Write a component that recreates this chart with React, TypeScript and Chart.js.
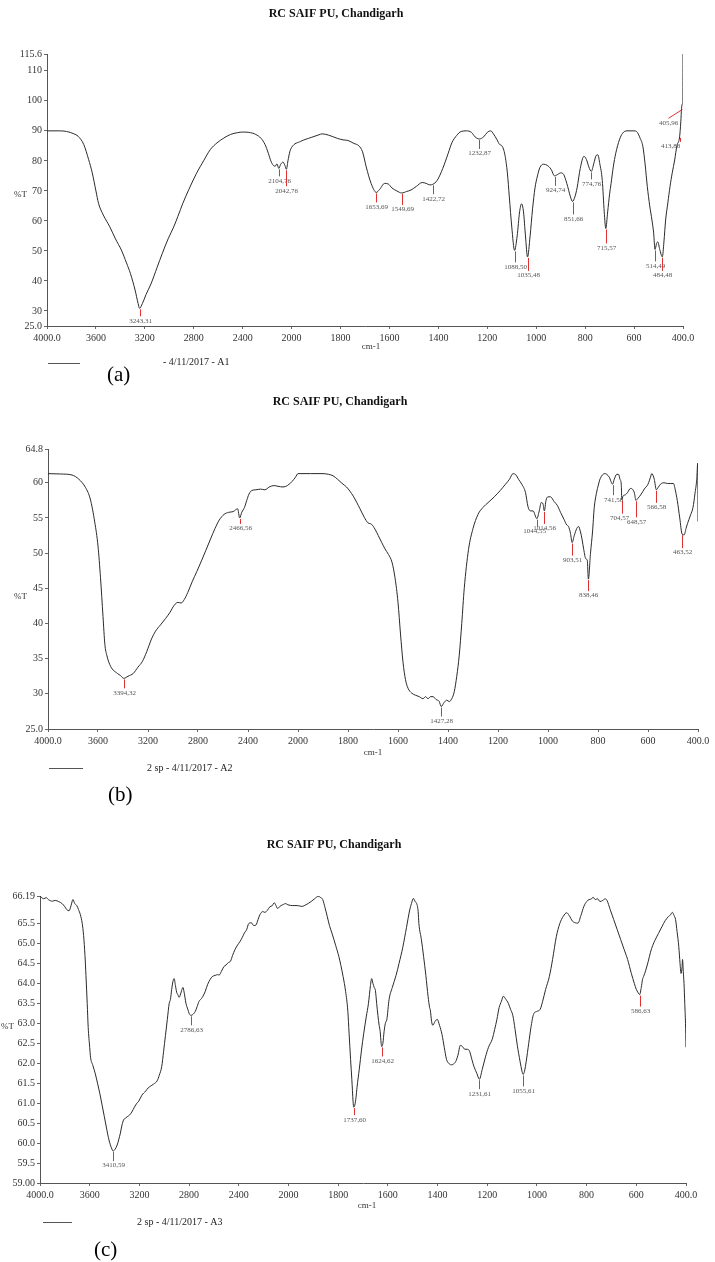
import React, { useEffect, useRef } from 'react';
import { Chart, registerables, LinearScale } from 'chart.js';

Chart.register(...registerables);

// FTIR axis: 4000-2000 cm-1 drawn at half the scale of 2000-400 cm-1
const BREAK = 2000;
const warp = (v: number) => (v > BREAK ? BREAK + (v - BREAK) / 2 : v);
const unwarp = (u: number) => (u > BREAK ? BREAK + (u - BREAK) * 2 : u);

class FtirScale extends LinearScale {
  static id = 'ftir';
  static defaults = LinearScale.defaults;
  getPixelForValue(value: number) {
    const a = warp(this.min);
    const b = warp(this.max);
    return this.getPixelForDecimal((warp(value) - a) / (b - a));
  }
  getValueForPixel(pixel: number) {
    const a = warp(this.min);
    const b = warp(this.max);
    return unwarp(a + this.getDecimalForPixel(pixel) * (b - a));
  }
}
Chart.register(FtirScale);

// ---------------- DATA ----------------
const X_TICKS = [4000, 3600, 3200, 2800, 2400, 2000, 1800, 1600, 1400, 1200, 1000, 800, 600, 400];
const X_TICK_LABELS = ['4000.0', '3600', '3200', '2800', '2400', '2000', '1800', '1600', '1400', '1200', '1000', '800', '600', '400.0'];

const TITLE = 'RC SAIF PU, Chandigarh';

// Panel (a)
const yTicksA = [25, 30, 40, 50, 60, 70, 80, 90, 100, 110, 115.6];
const yTickLabelsA = ['25.0', '30', '40', '50', '60', '70', '80', '90', '100', '110', '115.6'];
const spectrumA: [number, number][] = [
  [4000, 90], [3900, 90], [3840, 89.8], [3780, 89], [3746, 88.2], [3700, 85.5], [3660, 80.5], [3630, 76],
  [3600, 70], [3579, 65.9], [3540, 62], [3486, 58], [3440, 54], [3392, 50.3], [3350, 46], [3318, 42.5],
  [3280, 37], [3255, 32.5], [3243.31, 30.9], [3220, 32.5], [3190, 35.5], [3150, 39], [3100, 44.5], [3057, 49.2],
  [3010, 54], [2964, 58], [2930, 61.5], [2889, 65.9], [2840, 70.5], [2777, 75.9], [2720, 80], [2666, 83.7],
  [2610, 86], [2554, 87.6], [2500, 88.8], [2442, 89.4], [2400, 89.6], [2350, 89.5], [2293, 88.8], [2250, 87.5],
  [2218, 85.5], [2190, 82.5], [2170, 80], [2150, 78.5], [2135, 78.2], [2120, 79], [2104.76, 77.5], [2090, 78.8],
  [2070, 79.6], [2055, 78.5], [2042.76, 77.2], [2030, 80], [2015, 83], [2000, 84.5], [1963, 86.5], [1920, 87.8],
  [1888, 88.7], [1875, 89], [1850, 88.6], [1813, 87.5], [1790, 87], [1770, 86.8], [1745, 85.8], [1725, 85],
  [1710, 83], [1695, 78], [1675, 72.5], [1653.69, 69.5], [1640, 70.5], [1620, 72.5], [1605, 72.3], [1590, 71],
  [1570, 70], [1549.69, 69.3], [1530, 69.8], [1512, 70.3], [1490, 71.5], [1466, 72.8], [1450, 72.5], [1435, 72],
  [1422.72, 72.2], [1405, 73.5], [1382, 77.5], [1360, 82.5], [1345, 86], [1325, 88.5], [1307, 89.8], [1285, 90],
  [1265, 89.5], [1250, 88], [1232.87, 87.3], [1215, 88], [1200, 89.5], [1186, 90], [1175, 89], [1160, 87],
  [1150, 85.5], [1140, 85], [1128, 82], [1118, 76], [1110, 68], [1100, 58], [1088.5, 50.2], [1078, 55],
  [1068, 63], [1060, 65.7], [1052, 63], [1044, 55], [1035.48, 48], [1025, 55], [1015, 64], [1005, 71],
  [995, 75], [985, 77.8], [970, 78.9], [955, 78.5], [940, 77.3], [924.74, 75], [912, 75.5], [900, 76],
  [888, 75.5], [875, 72.5], [860, 68], [851.66, 66.5], [842, 68], [833, 71], [820, 77.5], [805, 81.5],
  [795, 80.5], [785, 78], [774.76, 76.5], [765, 79], [755, 81.8], [748, 82], [740, 79], [730, 73.5],
  [722, 63], [715.57, 57.5], [708, 63], [700, 69], [694, 72.5], [685, 78], [675, 82.5], [660, 87],
  [647, 89.2], [629, 90], [600, 90], [590, 89.8], [575, 87.5], [564, 84.8], [555, 79], [546, 71.5],
  [536, 65], [527, 60.3], [520, 56], [514.49, 50.5], [508, 52.5], [503, 53], [495, 50.5], [484.48, 48],
  [478, 53], [471, 60.3], [462, 66], [453, 71.5], [444, 76], [434, 80.3], [425, 85], [413.88, 88],
  [409, 93], [405.96, 97.5], [402, 99], [400.5, 99.5], [400, 115.6],
];
const peaksA: [number, number, string][] = [
  [3243.31, 30.9, '3243,31'], [2104.76, 77.5, '2104,76'], [2042.76, 77.2, '2042,76'], [1653.69, 69.5, '1653,69'],
  [1549.69, 69.3, '1549,69'], [1422.72, 72.2, '1422,72'], [1232.87, 87.3, '1232,87'], [1088.5, 50.2, '1088,50'],
  [1035.48, 48, '1035,48'], [924.74, 75, '924,74'], [851.66, 66.5, '851,66'], [774.76, 76.5, '774,76'],
  [715.57, 57.5, '715,57'], [514.49, 50.5, '514,49'], [484.48, 48, '484,48'], [413.88, 88, '413,88'],
  [405.96, 97.5, '405,96'],
];

// Panel (b)
const yTicksB = [25, 30, 35, 40, 45, 50, 55, 60, 64.8];
const yTickLabelsB = ['25.0', '30', '35', '40', '45', '50', '55', '60', '64.8'];
const spectrumB: [number, number][] = [
  [4000, 61.3], [3900, 61.25], [3808, 61.1], [3753, 60.5], [3699, 59.3], [3662, 57.7], [3626, 54.4], [3600, 51],
  [3580, 46.5], [3560, 41], [3545, 37], [3530, 35.5], [3499, 33.9], [3445, 32.9], [3420, 32.6], [3394.32, 32.2],
  [3360, 32.5], [3318, 32.9], [3280, 33.8], [3245, 34.6], [3210, 36], [3172, 37.8], [3140, 38.9], [3100, 39.8],
  [3060, 40.7], [3027, 41.5], [2990, 42.6], [2960, 43], [2936, 42.9], [2910, 43.4], [2882, 44.4], [2845, 46],
  [2809, 47.4], [2770, 49], [2737, 50.4], [2700, 52], [2664, 53.5], [2630, 54.7], [2592, 55.5], [2555, 55.8],
  [2519, 55.9], [2483, 56.3], [2466.56, 55], [2450, 55.8], [2428, 56.5], [2410, 57.5], [2392, 58.4], [2370, 58.9],
  [2337, 59], [2300, 59.1], [2265, 59], [2230, 59.4], [2193, 59.6], [2160, 59.5], [2120, 59.4], [2085, 59.6],
  [2047, 60.2], [2020, 60.8], [2000, 61.3], [1950, 61.3], [1900, 61.3], [1878, 61.2], [1860, 61], [1842, 60.5],
  [1820, 59.8], [1806, 59.4], [1779, 58.1], [1752, 56.3], [1735, 55.1], [1720, 54.3], [1706, 54.1], [1692, 53.4],
  [1679, 52.5], [1665, 51.5], [1652, 50.6], [1638, 49.8], [1624, 48.7], [1612, 46.5], [1600, 43], [1590, 38.5],
  [1580, 34.5], [1570, 32], [1560, 30.8], [1545, 30.1], [1530, 29.8], [1515, 29.6], [1500, 29.3], [1490, 29.6],
  [1480, 29.3], [1470, 29.6], [1460, 29.6], [1448, 29.2], [1435, 28.9], [1427.28, 28.2], [1415, 28.8], [1405, 29.1],
  [1395, 28.9], [1385, 29.3], [1375, 30.3], [1365, 32.5], [1355, 35.5], [1345, 40], [1335, 45], [1318, 50.5],
  [1300, 53.5], [1280, 55.5], [1260, 56.5], [1236, 57.3], [1215, 58], [1191, 58.9], [1170, 59.8], [1154, 60.5],
  [1140, 61.3], [1128, 61.1], [1118, 60.5], [1105, 59.8], [1090, 58.6], [1080, 56.6], [1070, 56], [1060, 56],
  [1044.55, 54.9], [1035, 56], [1027, 57.2], [1020, 57], [1014.56, 56], [1008, 57.5], [1000, 58], [990, 58],
  [975, 57.3], [963, 56.8], [950, 55.8], [936, 54.8], [925, 54], [918, 53.8], [910, 52.8], [903.51, 51.5],
  [895, 52.5], [885, 53.5], [878, 53.8], [870, 53], [864, 52], [857, 50.5], [849, 49.2], [843, 49],
  [838.46, 46.3], [830, 50], [822, 53], [815, 56.5], [809, 58], [800, 59.5], [791, 60.6], [773, 61.3],
  [765, 61.2], [755, 60.8], [741.58, 59.8], [735, 60.5], [725, 61.2], [718, 61.2], [712, 60.5], [707, 59.8],
  [704.57, 57.6], [700, 58.1], [690, 58.3], [682, 58.6], [670, 59.2], [660, 59], [654, 58.5], [648.57, 57.5],
  [640, 57.8], [627, 58.4], [615, 59.1], [600, 59.8], [590, 60.8], [585, 61.3], [575, 60.5], [566.58, 59],
  [560, 59.3], [550, 59.8], [536, 60], [522, 59.9], [509, 59.9], [498, 59.9], [491, 59], [483, 57.5],
  [473, 55], [463.52, 52.7], [455, 52.6], [448, 53.5], [442, 54.2], [430, 55.4], [420, 56.5], [412, 58.5],
  [405, 60.5], [401, 62.8], [400, 54.5],
];
const peaksB: [number, number, string][] = [
  [3394.32, 32.2, '3394,32'], [2466.56, 55, '2466,56'], [1427.28, 28.2, '1427,28'], [1044.55, 54.9, '1044,55'],
  [1014.56, 56, '1014,56'], [903.51, 51.5, '903,51'], [838.46, 46.3, '838,46'], [741.58, 59.8, '741,58'],
  [704.57, 57.6, '704,57'], [648.57, 57.5, '648,57'], [566.58, 59, '566,58'], [463.52, 52.7, '463,52'],
];

// Panel (c)
const yTicksC = [59, 59.5, 60, 60.5, 61, 61.5, 62, 62.5, 63, 63.5, 64, 64.5, 65, 65.5, 66.19];
const yTickLabelsC = ['59.00', '59.5', '60.0', '60.5', '61.0', '61.5', '62.0', '62.5', '63.0', '63.5', '64.0', '64.5', '65.0', '65.5', '66.19'];
const spectrumC: [number, number][] = [
  [4000, 66.19], [3970, 66.12], [3950, 66.15], [3933, 66.1], [3900, 66.06], [3877, 66.08], [3850, 66.05], [3822, 66.0],
  [3800, 65.92], [3785, 65.85], [3766, 65.82], [3750, 65.95], [3735, 66.1], [3720, 66.0], [3704, 65.95], [3690, 65.85],
  [3675, 65.72], [3660, 65.5], [3649, 65.2], [3638, 64.7], [3630, 64.2], [3620, 63.5], [3612, 62.9], [3600, 62.4],
  [3593, 62.15], [3575, 61.95], [3556, 61.75], [3537, 61.5], [3519, 61.25], [3500, 60.95], [3482, 60.66], [3463, 60.35],
  [3445, 60.08], [3425, 59.88], [3410.59, 59.8], [3395, 59.85], [3379, 59.95], [3365, 60.1], [3353, 60.25], [3340, 60.45],
  [3327, 60.58], [3310, 60.63], [3298, 60.66], [3280, 60.7], [3261, 60.78], [3240, 60.9], [3220, 61.0], [3205, 61.05],
  [3180, 61.2], [3150, 61.3], [3130, 61.38], [3113, 61.42], [3085, 61.48], [3057, 61.56], [3040, 61.7], [3020, 61.92],
  [3005, 62.3], [2990, 62.7], [2975, 63.1], [2960, 63.5], [2950, 63.6], [2940, 63.85], [2930, 64.05], [2920, 64.12],
  [2910, 63.95], [2900, 63.78], [2891, 63.72], [2880, 63.65], [2872, 63.7], [2860, 63.82], [2850, 63.9], [2840, 63.78],
  [2825, 63.5], [2810, 63.35], [2800, 63.25], [2786.63, 63.2], [2770, 63.22], [2750, 63.3], [2735, 63.42], [2720, 63.55],
  [2700, 63.62], [2688, 63.68], [2670, 63.8], [2650, 63.98], [2630, 64.1], [2614, 64.17], [2590, 64.2], [2570, 64.22],
  [2558, 64.21], [2540, 64.3], [2520, 64.42], [2503, 64.46], [2485, 64.52], [2466, 64.56], [2450, 64.7], [2430, 64.85],
  [2410, 64.96], [2390, 65.05], [2372, 65.15], [2355, 65.26], [2335, 65.36], [2320, 65.5], [2299, 65.52], [2280, 65.45],
  [2262, 65.46], [2245, 65.6], [2230, 65.72], [2207, 65.8], [2190, 65.78], [2170, 65.83], [2150, 65.92], [2130, 65.95],
  [2115, 66.02], [2100, 65.95], [2090, 65.88], [2078, 65.9], [2060, 65.95], [2040, 65.98], [2022, 66.0], [2005, 65.97],
  [1983, 65.95], [1965, 65.95], [1946, 65.93], [1930, 65.97], [1909, 66.05], [1895, 66.12], [1880, 66.18], [1870, 66.15],
  [1862, 66.1], [1853, 65.9], [1844, 65.68], [1835, 65.45], [1825, 65.26], [1810, 64.95], [1797, 64.67], [1789, 64.45],
  [1780, 64.17], [1770, 63.8], [1761, 63.3], [1756, 62.75], [1750, 62.1], [1745, 61.6], [1740, 61.05], [1737.6, 60.9],
  [1733, 60.95], [1728, 61.15], [1724, 61.4], [1715, 61.85], [1706, 62.33], [1697, 62.75], [1687, 63.16], [1678, 63.5],
  [1670, 63.95], [1665, 64.12], [1660, 64.0], [1655, 63.9], [1650, 63.82], [1645, 63.5], [1640, 63.2], [1635, 62.95],
  [1631, 62.8], [1627, 62.5], [1624.62, 62.42], [1620, 62.5], [1615, 62.8], [1610, 63.0], [1604, 63.1], [1595, 63.6],
  [1582, 63.9], [1567, 64.2], [1555, 64.5], [1540, 64.9], [1525, 65.4], [1512, 65.84], [1505, 66.0], [1497, 66.13],
  [1490, 66.05], [1484, 66.0], [1478, 65.8], [1475, 65.5], [1465, 65.1], [1456, 64.67], [1447, 64.2], [1438, 63.67],
  [1432, 63.4], [1429, 63.33], [1424, 63.05], [1419, 62.95], [1410, 63.05], [1401, 63.1], [1392, 62.95], [1382, 62.72],
  [1373, 62.4], [1364, 62.1], [1355, 62.0], [1345, 61.96], [1336, 61.98], [1327, 62.04], [1318, 62.2], [1308, 62.45],
  [1300, 62.42], [1290, 62.35], [1280, 62.35], [1271, 62.3], [1262, 62.1], [1253, 61.91], [1242, 61.75], [1231.61, 61.6],
  [1220, 61.85], [1207, 62.16], [1195, 62.4], [1180, 62.6], [1170, 62.85], [1161, 63.1], [1152, 63.4], [1143, 63.55],
  [1135, 63.68], [1127, 63.62], [1115, 63.5], [1106, 63.35], [1097, 63.2], [1088, 62.85], [1079, 62.45], [1068, 62.05],
  [1060, 61.8], [1055.61, 61.72], [1050, 61.8], [1043, 62.05], [1033, 62.5], [1024, 62.9], [1014, 63.22], [1000, 63.3],
  [987, 63.35], [977, 63.55], [965, 63.85], [950, 64.17], [937, 64.6], [922, 65.17], [908, 65.5], [894, 65.68],
  [880, 65.77], [870, 65.7], [857, 65.56], [846, 65.52], [835, 65.51], [823, 65.7], [811, 65.93], [800, 66.05],
  [790, 66.1], [780, 66.12], [774, 66.16], [765, 66.1], [756, 66.12], [746, 66.05], [735, 66.08], [725, 66.12],
  [718, 66.08], [705, 65.85], [691, 65.6], [677, 65.35], [663, 65.1], [649, 64.85], [635, 64.6], [620, 64.25],
  [608, 64.0], [600, 63.85], [594, 63.78], [586.63, 63.72], [580, 63.9], [575, 64.1], [571, 64.17], [566, 64.25],
  [562, 64.33], [552, 64.55], [543, 64.78], [534, 64.95], [525, 65.08], [511, 65.25], [497, 65.42], [483, 65.58],
  [470, 65.68], [462, 65.72], [455, 65.78], [448, 65.7], [442, 65.6], [436, 65.3], [429, 64.92], [424, 64.5],
  [420, 64.25], [416, 64.4], [414, 64.6], [411, 64.3], [408, 64.0], [405, 63.5], [402, 63.0], [400, 62.4],
];
const peaksC: [number, number, string][] = [
  [3410.59, 59.8, '3410,59'], [2786.63, 63.2, '2786,63'], [1737.6, 60.9, '1737,60'], [1624.62, 62.42, '1624,62'],
  [1231.61, 61.6, '1231,61'], [1055.61, 61.72, '1055,61'], [586.63, 63.72, '586,63'],
];

const legendA = '- 4/11/2017 - A1';
const legendB = '2 sp - 4/11/2017 - A2';
const legendC = '2 sp - 4/11/2017 - A3';

// ---------------- LAYOUT / STYLE ----------------
type Adj = { drop?: number; dx?: number; lx?: number };
type Panel = {
  top: number; height: number;
  area: { left: number; right: number; top: number; bottom: number };
  spectrum: [number, number][]; peaks: [number, number, string][];
  yMin: number; yMax: number; yTicks: number[]; yTickLabels: string[];
  title: [number, number]; pctT: [number, number]; cm: [number, number];
  legendLine: [number, number, number]; legendText: string; legendPos: [number, number];
  letter: string; letterPos: [number, number];
  adjust: Record<string, Adj>;
};

const X_AXIS_H = 22;
const SERIF = '"Liberation Serif", "DejaVu Serif", serif';

const PANELS: Panel[] = [
  {
    top: 0, height: 390,
    area: { left: 47, right: 683, top: 54, bottom: 326 },
    spectrum: spectrumA, peaks: peaksA,
    yMin: 25, yMax: 115.6, yTicks: yTicksA, yTickLabels: yTickLabelsA,
    title: [336, 14], pctT: [14, 195], cm: [371, 347],
    legendLine: [48, 80, 363], legendText: legendA, legendPos: [163, 362],
    letter: '(a)', letterPos: [107, 375],
    adjust: {
      '3243,31': { drop: 8 }, '2104,76': { drop: 8 }, '2042,76': { drop: 17 }, '1549,69': { drop: 12 },
      '1088,50': { drop: 12 }, '1035,48': { drop: 14 }, '851,66': { drop: 13 }, '715,57': { drop: 15 },
      '514,49': { drop: 12 }, '484,48': { drop: 14 }, '774,76': { drop: 8 },
      '413,88': { drop: 5, dx: -10 }, '405,96': { drop: 10, lx: -14, dx: -14 },
    },
  },
  {
    top: 390, height: 430,
    area: { left: 48, right: 698, top: 59, bottom: 339 },
    spectrum: spectrumB, peaks: peaksB,
    yMin: 25, yMax: 64.8, yTicks: yTicksB, yTickLabels: yTickLabelsB,
    title: [340, 12], pctT: [14, 207], cm: [373, 363],
    legendLine: [49, 83, 378], legendText: legendB, legendPos: [147, 378],
    letter: '(b)', letterPos: [108, 405],
    adjust: {
      '2466,56': { drop: 6 }, '1044,55': { drop: 8, dx: -3 }, '1014,56': { drop: 13 }, '903,51': { drop: 13 },
      '838,46': { drop: 12 }, '741,58': { drop: 11 }, '704,57': { drop: 14, dx: -3 }, '648,57': { drop: 17 },
      '566,58': { drop: 13 }, '463,52': { drop: 14 },
    },
  },
  {
    top: 820, height: 442,
    area: { left: 40, right: 686, top: 76, bottom: 363 },
    spectrum: spectrumC, peaks: peaksC,
    yMin: 59, yMax: 66.19, yTicks: yTicksC, yTickLabels: yTickLabelsC,
    title: [334, 25], pctT: [1, 207], cm: [367, 386],
    legendLine: [43, 72, 402], legendText: legendC, legendPos: [137, 402],
    letter: '(c)', letterPos: [94, 430],
    adjust: { '1737,60': { drop: 8 }, '1055,61': { drop: 12 }, '586,63': { drop: 12 } },
  },
];

const overlayPlugin = {
  id: 'overlay',
  afterDatasetsDraw(chart: any, _args: any, opts: any) {
    const p: Panel = opts.panel;
    const ctx = chart.ctx as CanvasRenderingContext2D;
    const xs = chart.scales.x;
    const ys = chart.scales.y;
    ctx.save();
    // peak markers
    p.peaks.forEach(([w, t, label]) => {
      const adj = p.adjust[label] || {};
      const drop = adj.drop ?? 10;
      const px = Math.round(xs.getPixelForValue(w)) + 0.5;
      const py = ys.getPixelForValue(t);
      ctx.strokeStyle = '#e03030';
      ctx.lineWidth = 1;
      ctx.beginPath();
      ctx.moveTo(px, py + 1);
      ctx.lineTo(px + (adj.lx ?? 0), py + drop);
      ctx.stroke();
      ctx.font = `7px ${SERIF}`;
      ctx.fillStyle = '#555';
      ctx.textAlign = 'center';
      ctx.textBaseline = 'top';
      ctx.fillText(label, px + (adj.dx ?? 0), py + drop + 1);
    });
    // title
    ctx.fillStyle = '#111';
    ctx.font = `bold 12px ${SERIF}`;
    ctx.textAlign = 'center';
    ctx.textBaseline = 'middle';
    ctx.fillText(TITLE, p.title[0], p.title[1]);
    // axis titles
    ctx.fillStyle = '#333';
    ctx.font = `9px ${SERIF}`;
    ctx.textAlign = 'left';
    ctx.fillText('%T', p.pctT[0], p.pctT[1]);
    ctx.textAlign = 'center';
    ctx.fillText('cm-1', p.cm[0], p.cm[1]);
    // legend
    ctx.strokeStyle = '#555';
    ctx.lineWidth = 1;
    ctx.beginPath();
    ctx.moveTo(p.legendLine[0], p.legendLine[2] + 0.5);
    ctx.lineTo(p.legendLine[1], p.legendLine[2] + 0.5);
    ctx.stroke();
    ctx.fillStyle = '#222';
    ctx.font = `10px ${SERIF}`;
    ctx.textAlign = 'left';
    ctx.fillText(p.legendText, p.legendPos[0], p.legendPos[1]);
    // panel letter
    ctx.fillStyle = '#000';
    ctx.font = `21px ${SERIF}`;
    ctx.fillText(p.letter, p.letterPos[0], p.letterPos[1]);
    ctx.restore();
  },
};

function makeConfig(p: Panel): any {
  const tickFont = { family: SERIF, size: 10 };
  return {
    type: 'line',
    data: {
      datasets: [{
        data: p.spectrum.map(([x, y]) => ({ x, y })),
        borderColor: '#2a2a2a',
        borderWidth: 1,
        pointRadius: 0,
        fill: false,
        cubicInterpolationMode: 'monotone',
      }],
    },
    options: {
      animation: false,
      responsive: false,
      devicePixelRatio: 1,
      events: [],
      layout: {
        padding: { left: 0, top: p.area.top, right: 715 - p.area.right, bottom: p.height - p.area.bottom - X_AXIS_H },
      },
      plugins: {
        legend: { display: false },
        title: { display: false },
        tooltip: { enabled: false },
        overlay: { panel: p },
      },
      scales: {
        x: {
          type: 'ftir',
          min: 400,
          max: 4000,
          reverse: true,
          afterBuildTicks: (s: any) => { s.ticks = X_TICKS.map((v) => ({ value: v })); },
          afterFit: (s: any) => { s.height = X_AXIS_H; },
          ticks: {
            autoSkip: false, maxRotation: 0, minRotation: 0, padding: 3, color: '#333', font: tickFont,
            callback: (_v: any, i: number) => X_TICK_LABELS[i],
          },
          grid: { display: true, drawOnChartArea: false, drawTicks: true, tickLength: 3, color: '#666' },
          border: { display: true, color: '#555', width: 1 },
        },
        y: {
          type: 'linear',
          min: p.yMin,
          max: p.yMax,
          afterBuildTicks: (s: any) => { s.ticks = p.yTicks.map((v) => ({ value: v })); },
          afterFit: (s: any) => { s.width = p.area.left; },
          ticks: {
            autoSkip: false, padding: 2, color: '#333', font: tickFont,
            callback: (_v: any, i: number) => p.yTickLabels[i],
          },
          grid: { display: true, drawOnChartArea: false, drawTicks: true, tickLength: 3, color: '#666' },
          border: { display: true, color: '#555', width: 1 },
        },
      },
    },
    plugins: [overlayPlugin],
  };
}

export default function App() {
  const refs = useRef<(HTMLCanvasElement | null)[]>([]);
  useEffect(() => {
    const charts = PANELS.map((p, i) => new Chart(refs.current[i] as HTMLCanvasElement, makeConfig(p)));
    return () => charts.forEach((c) => c.destroy());
  }, []);
  return (
    <div style={{ position: 'absolute', left: 0, top: 0, width: 715, height: 1262, background: '#fff', overflow: 'hidden' }}>
      {PANELS.map((p, i) => (
        <canvas
          key={i}
          ref={(el) => { refs.current[i] = el; }}
          width={715}
          height={p.height}
          style={{ position: 'absolute', left: 0, top: p.top, width: 715, height: p.height, display: 'block' }}
        />
      ))}
    </div>
  );
}
